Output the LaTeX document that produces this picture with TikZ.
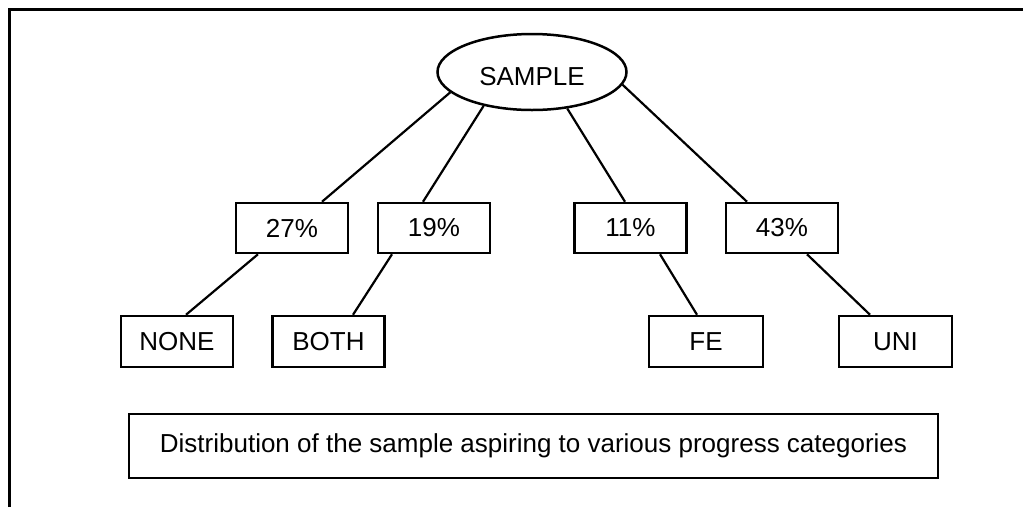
\documentclass[tikz,border=0pt]{standalone}
\usepackage{fontspec}
\setmainfont{Liberation Sans}
\usetikzlibrary{shapes.geometric,calc}

\tikzset{
  box/.style={draw, line width=2.5pt, rectangle, minimum width=112pt, minimum height=50pt,
              inner sep=0pt, font=\fontsize{26}{31}\selectfont},
  oval/.style={draw, line width=2.5pt, ellipse, minimum width=189pt, minimum height=76pt,
               inner sep=0pt, text height=26.5pt, text depth=0pt, font=\fontsize{26}{31}\selectfont},
  link/.style={line width=2.2pt},
  frame/.style={line width=3pt}
}

\begin{document}
\begin{tikzpicture}[x=1pt, y=-1pt]
  \useasboundingbox (0,0) rectangle (1023,507);

  % open frame: top and left edges only
  \coordinate (ftl) at (9,9.5);
  \coordinate (ftr) at (1023,9.5);
  \coordinate (fbl) at (9,507);
  \draw[frame] (fbl) -- (ftl) -- (ftr);

  % root
  \node[oval] (sample) at (532,72) {SAMPLE};

  % percentages
  \node[box] (p27) at (292,228) {27\%};
  \node[box] (p19) at (434,228) {19\%};
  \node[box] (p11) at (630.5,228) {11\%};
  \node[box] (p43) at (782,228) {43\%};

  % categories
  \node[box, minimum height=51pt] (none) at (177,341.5) {NONE};
  \node[box, minimum height=51pt] (both) at (328.5,341.5) {BOTH};
  \node[box, minimum height=51pt, minimum width=114pt] (fe) at (706,341.5) {FE};
  \node[box, minimum height=51pt, minimum width=113pt] (uni) at (895.5,341.5) {UNI};

  % caption
  \node[box, minimum width=809pt, minimum height=64pt] (caption) at (533.5,446)
    {Distribution of the sample aspiring to various progress categories};

  % root to percentages
  \draw[link] (sample.194.7) -- ($(p27.north)+(30,0)$);
  \draw[link] (sample.215.2) -- ($(p19.north)+(-11,0)$);
  \draw[link] (sample.314.6) -- ($(p11.north)+(-5.5,0)$);
  \draw[link] (sample.352.2) -- ($(p43.north)+(-35,0)$);

  % percentages to categories
  \draw[link] ($(p27.south)+(-34,0)$) -- ($(none.north)+(9,0)$);
  \draw[link] ($(p19.south)+(-42,0)$) -- ($(both.north)+(24.5,0)$);
  \draw[link] ($(p11.south)+(29.5,0)$) -- ($(fe.north)+(-9,0)$);
  \draw[link] ($(p43.south)+(25,0)$) -- ($(uni.north)+(-25.5,0)$);
\end{tikzpicture}
\end{document}
